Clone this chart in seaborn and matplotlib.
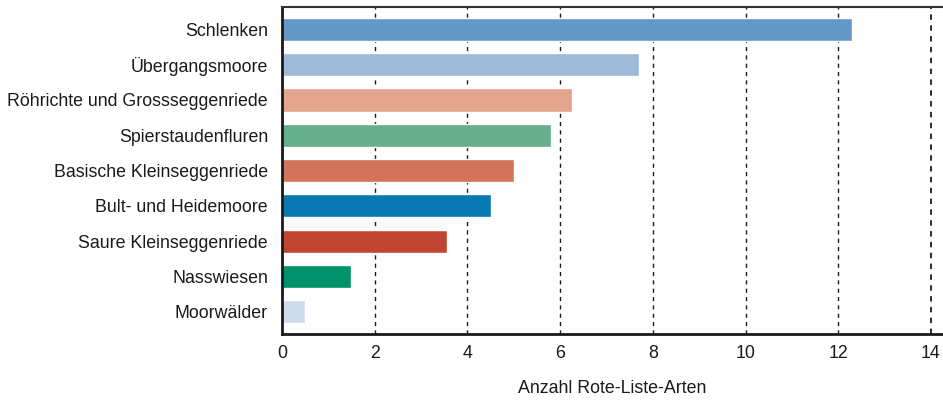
import numpy as np
import pandas as pd
import seaborn as sns
import matplotlib.pyplot as plt

# habitat types and number of red-list species
habitats = ["Schlenken", "Übergangsmoore", "Röhrichte und Grossseggenriede",
            "Spierstaudenfluren", "Basische Kleinseggenriede", "Bult- und Heidemoore",
            "Saure Kleinseggenriede", "Nasswiesen", "Moorwälder"]
counts = [12.3, 7.7, 6.25, 5.8, 5.0, 4.5, 3.55, 1.5, 0.5]
colors = ["#6598c6", "#9db9d7", "#e2a48d", "#66ae8c", "#d2735b",
          "#0a79b3", "#c04633", "#00936b", "#cfdcec"]

df = pd.DataFrame({"habitat": habitats, "count": counts})

sns.set_style("white")
plt.rcParams['font.family'] = ['Liberation Sans', 'DejaVu Sans']

fig = plt.figure(figsize=(9.43, 4.01), dpi=100)
ax = fig.add_axes([0.299, 0.167, 0.701, 0.8155])

sns.barplot(data=df, x="count", y="habitat", hue="habitat", palette=colors,
            width=0.66, saturation=1, legend=False, ax=ax)

ax.set_xlim(0, 14.26)
ax.set_ylim(8.63, -0.63)
ax.set_xticks(np.arange(0, 15, 2))
for x in range(2, 15, 2):
    ax.axvline(x, color="#1a1a1a", lw=1.3 if x == 14 else 1, ls=(0, (3, 3)), zorder=0)

ax.spines["right"].set_visible(False)
ax.spines["left"].set_color("#1a1a1a")
ax.spines["left"].set_linewidth(2)
ax.spines["bottom"].set_color("#1a1a1a")
ax.spines["bottom"].set_linewidth(2)
ax.spines["top"].set_color("#333333")
ax.spines["top"].set_linewidth(1.5)

ax.tick_params(axis="both", length=0, labelsize=12.8, colors="#1a1a1a")
ax.tick_params(axis="x", pad=8)
ax.tick_params(axis="y", pad=10)
ax.set_ylabel("")
ax.set_xlabel("Anzahl Rote-Liste-Arten", fontsize=12.8, color="#1a1a1a", labelpad=13)

plt.savefig("out.png", dpi=100)
